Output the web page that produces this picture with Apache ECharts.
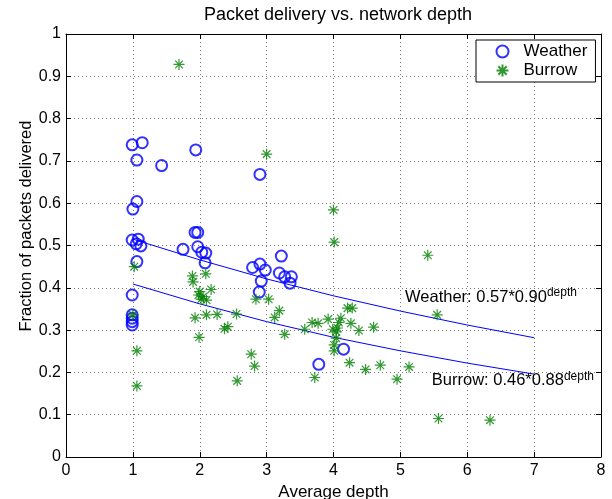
<!DOCTYPE html>
<html>
<head>
<meta charset="utf-8">
<script src="https://cdn.jsdelivr.net/npm/echarts@6/dist/echarts.min.js"></script>
<style>html,body{margin:0;padding:0;background:#fff}#c{width:612px;height:499px}</style>
</head>
<body>
<div id="c"></div>
<script>
// Weather nodes: [average depth, fraction delivered]
var weatherPoints = [
  [0.99,0.738],[1.14,0.743],[1.06,0.702],[1.43,0.689],[1.94,0.726],[2.90,0.668],
  [1.06,0.604],[1.00,0.586],[0.99,0.513],[1.08,0.515],[1.05,0.504],[1.12,0.499],
  [1.06,0.462],[1.97,0.531],[1.93,0.531],[1.75,0.491],[1.97,0.497],[2.03,0.484],
  [2.09,0.482],[2.08,0.459],[0.99,0.383],[0.99,0.336],[0.99,0.328],[0.99,0.320],
  [0.99,0.312],[2.79,0.448],[2.90,0.456],[2.98,0.442],[2.92,0.416],[2.89,0.390],
  [3.22,0.475],[3.19,0.435],[3.27,0.426],[3.37,0.426],[3.35,0.411],[4.15,0.255],
  [3.78,0.219]
];
// Burrow nodes
var burrowPoints = [
  [1.69,0.928],[3.00,0.716],[4.00,0.584],[4.01,0.508],[5.41,0.477],[5.55,0.336],
  [5.13,0.213],[4.95,0.184],[5.57,0.091],[6.34,0.087],
  [1.02,0.450],[1.00,0.336],[1.06,0.251],[1.06,0.168],
  [1.89,0.428],[1.90,0.414],[2.09,0.433],[2.17,0.396],[2.00,0.391],[1.98,0.383],
  [2.05,0.379],[2.10,0.371],[2.02,0.373],[1.93,0.329],[2.10,0.336],[2.26,0.337],
  [2.55,0.338],[2.37,0.303],[2.42,0.308],[1.99,0.283],[2.84,0.373],[3.03,0.373],
  [3.19,0.346],[3.12,0.330],[3.27,0.290],[3.57,0.302],[2.77,0.243],[2.82,0.215],
  [2.56,0.180],[3.68,0.318],[3.77,0.316],[3.92,0.326],[4.21,0.352],[4.28,0.352],
  [4.11,0.328],[4.08,0.318],[3.99,0.302],[4.04,0.296],[4.06,0.305],[4.26,0.316],
  [4.38,0.299],[4.60,0.307],[4.04,0.281],[4.01,0.265],[4.01,0.251],[4.24,0.223],
  [4.48,0.207],[4.70,0.217],[3.72,0.188]
];
// Fitted curves (depth 1..7)
var fitDepths = [1,2,3,4,5,6,7];
var weatherFit = [0.515,0.466,0.421,0.381,0.345,0.312,0.282];
var burrowFit  = [0.409,0.362,0.320,0.283,0.251,0.222,0.196];
var xTicks = [0,1,2,3,4,5,6,7,8];
var yTicks = [0,0.1,0.2,0.3,0.4,0.5,0.6,0.7,0.8,0.9,1];
var titleText = 'Packet delivery vs. network depth';
var xLabel = 'Average depth';
var yLabel = 'Fraction of packets delivered';
var weatherFitText = 'Weather: 0.57*0.90';
var burrowFitText = 'Burrow: 0.46*0.88';
var supText = 'depth';

var FONT = '"Liberation Sans", Arial, Helvetica, sans-serif';
var chart = echarts.init(document.getElementById('c'), null, {renderer:'canvas'});
var asterisk = 'path://M5,0L5,10M0,5L10,5M1.5,1.5L8.5,8.5M1.5,8.5L8.5,1.5';

function zipFit(vals){ return fitDepths.map(function(d,i){return [d, vals[i]];}); }

var axisCommon = {
  type:'value',
  axisLine:{show:true, onZero:false, lineStyle:{color:'#000', width:1}},
  axisTick:{show:true, inside:true, length:5, lineStyle:{color:'#000'}},
  axisLabel:{color:'#000', fontFamily:FONT, fontSize:16},
  splitLine:{show:false}
};

var option = {
  animation:false,
  backgroundColor:'#fff',
  title:{text:titleText, left:333, textAlign:'center', top:1,
    textStyle:{fontFamily:FONT, fontSize:18, fontWeight:'normal', color:'#000'}},
  grid:{left:66, right:11, top:34, bottom:42, containLabel:false, outerBoundsMode:'none'},
  xAxis:[
    Object.assign({}, axisCommon, {min:0, max:8, interval:1, position:'bottom',
      axisLabel:{color:'#000', fontFamily:FONT, fontSize:16, margin:6},
      name:xLabel, nameLocation:'middle', nameGap:24,
      nameTextStyle:{fontFamily:FONT, fontSize:17, color:'#000'},
      splitLine:{show:true, lineStyle:{color:'#777', type:[1,3], width:1}}}),
    Object.assign({}, axisCommon, {min:0, max:8, interval:1, position:'top',
      axisLabel:{show:false}})
  ],
  yAxis:[
    Object.assign({}, axisCommon, {min:0, max:1, interval:0.1, position:'left',
      axisLabel:{color:'#000', fontFamily:FONT, fontSize:16, margin:5,
        formatter:function(v){ return String(Math.round(v*10)/10); }},
      splitLine:{show:true, lineStyle:{color:'#777', type:[1,3], width:1}}}),
    Object.assign({}, axisCommon, {min:0, max:1, interval:0.1, position:'right',
      axisLabel:{show:false}})
  ],
  legend:{
    data:['Weather','Burrow'], orient:'vertical', left:476, top:40,
    padding:[3,8,3,18], itemGap:2, itemWidth:14, itemHeight:12,
    backgroundColor:'#fff', borderColor:'#000', borderWidth:1, borderRadius:0,
    textStyle:{fontFamily:FONT, fontSize:17, color:'#000', padding:[0,0,0,9]}
  },
  graphic:[{
    type:'text', x:26, y:226, rotation:Math.PI/2,
    style:{text:yLabel, font:'16.5px '+FONT, fill:'#000', textAlign:'center', textVerticalAlign:'middle'}
  }],
  series:[
    {name:'Weather fit', type:'line', data:zipFit(weatherFit), showSymbol:false, symbol:'none',
      lineStyle:{color:'#0000ff', width:1}, z:1, silent:true},
    {name:'Burrow fit', type:'line', data:zipFit(burrowFit), showSymbol:false, symbol:'none',
      lineStyle:{color:'#0000ff', width:1}, z:1, silent:true},
    {name:'Weather', type:'scatter', data:weatherPoints, symbol:'circle', symbolSize:11,
      itemStyle:{color:'none', borderColor:'#0000ff', borderWidth:2}, z:3},
    {name:'Burrow', type:'scatter', data:burrowPoints, symbol:asterisk, symbolSize:11,
      itemStyle:{color:'none', borderColor:'#008000', borderWidth:1.2}, z:4},
    {name:'labels', type:'scatter', symbolSize:0, silent:true, z:5,
      data:[
        {value:[5.07,0.378], label:{formatter:'{a|'+weatherFitText+'}{b|'+supText+'}'}},
        {value:[5.47,0.180], label:{formatter:'{a|'+burrowFitText+'}{b|'+supText+'}'}}
      ],
      label:{show:true, position:'right', distance:0, color:'#000', textBorderWidth:0, opacity:1,
        rich:{
          a:{fontFamily:FONT, fontSize:16.5, color:'#000', lineHeight:20, textBorderWidth:0},
          b:{fontFamily:FONT, fontSize:12, color:'#000', verticalAlign:'top', lineHeight:20, padding:[0,0,8,0], textBorderWidth:0}
        }}
    }
  ]
};
chart.setOption(option);
</script>
</body>
</html>
